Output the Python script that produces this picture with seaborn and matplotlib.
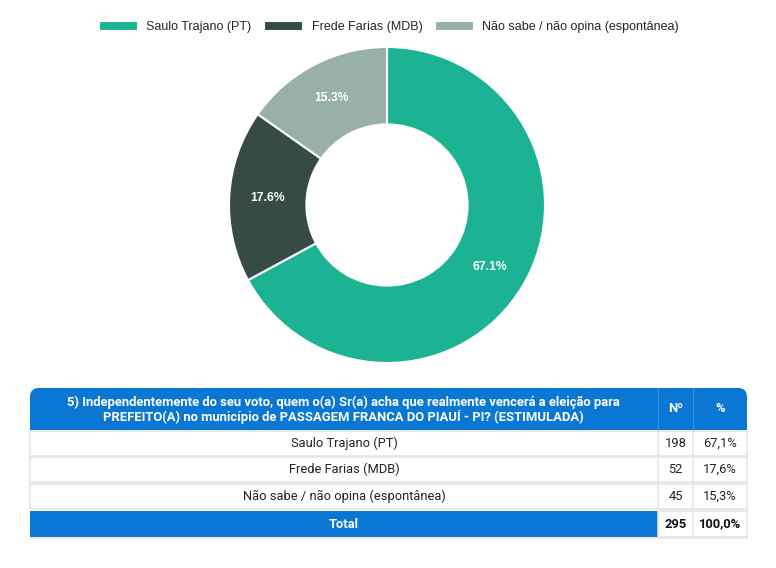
import matplotlib
matplotlib.use("Agg")
import matplotlib.pyplot as plt
from matplotlib.patches import Rectangle, FancyBboxPatch
import seaborn as sns

# data
categories = ["Saulo Trajano (PT)", "Frede Farias (MDB)", "Não sabe / não opina (espontânea)"]
counts = [198, 52, 45]
pct_labels = ["67,1%", "17,6%", "15,3%"]
total_count = 295
total_pct = "100,0%"
colors = ["#1bb394", "#354b43", "#98b0a7"]
question = ("5) Independentemente do seu voto, quem o(a) Sr(a) acha que realmente vencerá a eleição para\n"
            "PREFEITO(A) no município de PASSAGEM FRANCA DO PIAUÍ - PI? (ESTIMULADA)")

sns.set_theme(style="white")
plt.rcParams['font.family'] = ['Liberation Sans', 'DejaVu Sans']

W, H = 776, 568
fig = plt.figure(figsize=(W / 100, H / 100), dpi=100)

# donut
cx, cy, r = 387, 205, 158
ax = fig.add_axes([(cx - r) / W, (H - cy - r) / H, 2 * r / W, 2 * r / H])
wedges, _, autotexts = ax.pie(
    counts,
    colors=colors,
    startangle=90,
    counterclock=False,
    radius=1,
    autopct=lambda p: f"{p:.1f}%",
    pctdistance=0.76,
    wedgeprops=dict(width=0.49, edgecolor="white", linewidth=1.5),
    textprops=dict(color="white", fontsize=8.7, fontweight="bold"),
)
ax.set_xlim(-1, 1)
ax.set_ylim(-1, 1)
ax.set_aspect("equal")
ax.axis("off")

fig.legend(
    wedges, categories,
    loc="center",
    bbox_to_anchor=(389 / W, 1 - 27 / H),
    ncol=3,
    frameon=False,
    fontsize=9,
    handlelength=3.1,
    handleheight=0.85,
    handletextpad=0.7,
    columnspacing=1.0,
)

# table
tax = fig.add_axes([0, 0, 1, 1])
tax.set_xlim(0, W)
tax.set_ylim(H, 0)
tax.axis("off")

blue = "#0b77d5"
x0, x1, x2, x3 = 30, 658, 693, 747
hy0, hy1 = 388, 430
row_tops = [431, 457, 484]
row_h = 25
tot_y = 511

tax.add_patch(FancyBboxPatch((x0, hy0), x3 - x0, hy1 - hy0,
                             boxstyle="round,pad=0,rounding_size=9",
                             fc=blue, ec="none"))
tax.add_patch(Rectangle((x0, hy0 + 12), x3 - x0, hy1 - hy0 - 12, fc=blue, ec="none"))
for xv in (x1, x2):
    tax.plot([xv, xv], [hy0, hy1], color="#3b93e0", lw=0.8)

tfont = ['Roboto', 'DejaVu Sans']
tax.text((x0 + x1) / 2 - 1, 410, question, ha="center", va="center",
         color="white", fontsize=9.35, fontweight="bold", family=tfont, linespacing=1.1)
tax.text((x1 + x2) / 2, (hy0 + hy1) / 2, "Nº", ha="center", va="center",
         color="white", fontsize=9.35, fontweight="bold", family=tfont)
tax.text((x2 + x3) / 2, (hy0 + hy1) / 2, "%", ha="center", va="center",
         color="white", fontsize=9.35, fontweight="bold", family=tfont)

grid = "#e3e6ea"
for top, cat, n, p in zip(row_tops, categories, counts, pct_labels):
    tax.add_patch(Rectangle((x0, top), x3 - x0, row_h, fc="white", ec=grid, lw=1.2))
    for xv in (x1, x2):
        tax.plot([xv, xv], [top, top + row_h], color=grid, lw=1.2)
    yc = top + row_h / 2
    tax.text((x0 + x1) / 2, yc, cat, ha="center", va="center", fontsize=9.3,
             color="#222222", family=tfont)
    tax.text((x1 + x2) / 2, yc, str(n), ha="center", va="center", fontsize=9.3,
             color="#222222", family=tfont)
    tax.text((x2 + x3) / 2, yc, p, ha="center", va="center", fontsize=9.3,
             color="#222222", family=tfont)

tax.add_patch(Rectangle((x0, tot_y), x1 - x0, row_h + 1, fc=blue, ec="none"))
tax.add_patch(Rectangle((x1, tot_y), x3 - x1, row_h + 1, fc="white", ec=grid, lw=1.2))
tax.plot([x2, x2], [tot_y, tot_y + row_h + 1], color=grid, lw=1.2)
tax.plot([x0, x3], [tot_y + row_h + 1.5, tot_y + row_h + 1.5], color=grid, lw=1.2)
yc = tot_y + row_h / 2 + 0.5
tax.text((x0 + x1) / 2, yc, "Total", ha="center", va="center", fontsize=9.3,
         color="white", fontweight="bold", family=tfont)
tax.text((x1 + x2) / 2, yc, str(total_count), ha="center", va="center", fontsize=9.3,
         color="#111111", fontweight="bold", family=tfont)
tax.text((x2 + x3) / 2, yc, total_pct, ha="center", va="center", fontsize=9.3,
         color="#111111", fontweight="bold", family=tfont)

fig.savefig("out.png", dpi=100)
